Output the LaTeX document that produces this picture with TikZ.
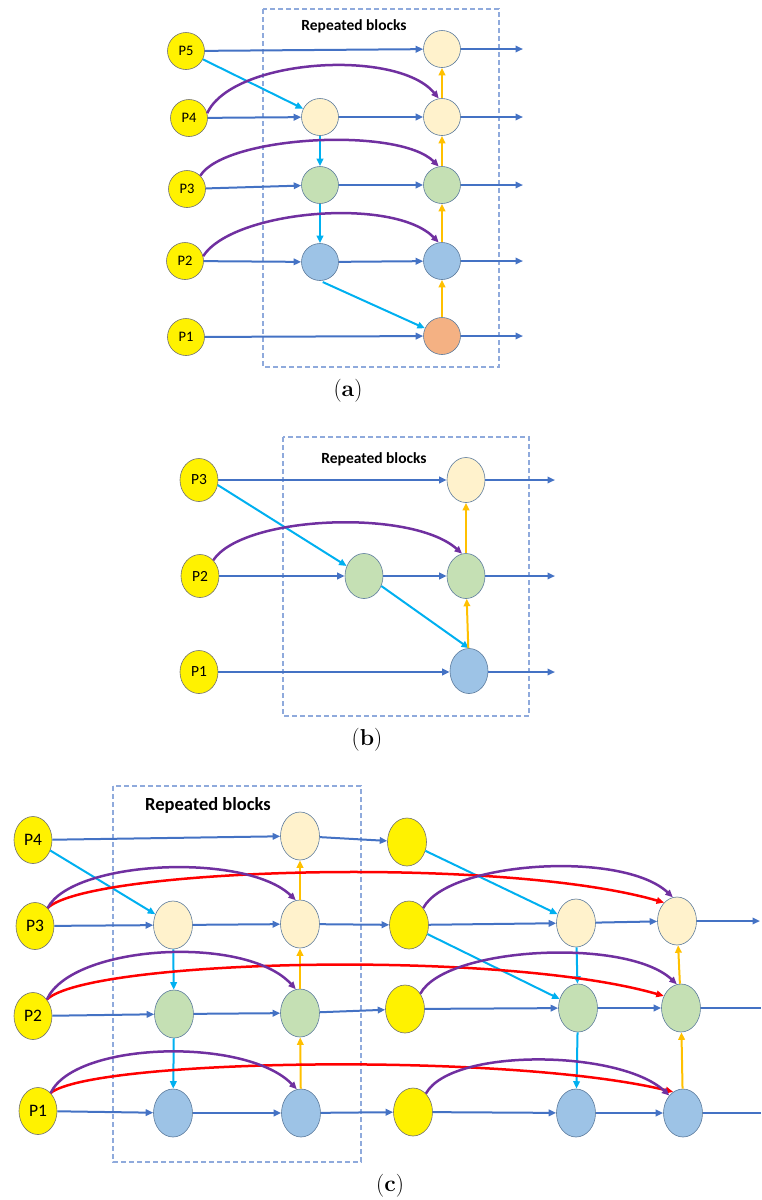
\documentclass[tikz,border=0pt]{standalone}
\usepackage{fontspec}
\newfontfamily\calibri{Carlito}
\usetikzlibrary{arrows.meta,shapes.geometric}
\definecolor{flowc}{HTML}{4472C4}
\definecolor{feedc}{HTML}{00B0F0}
\definecolor{liftc}{HTML}{FFC000}
\definecolor{skipc}{HTML}{7030A0}
\definecolor{jumpc}{HTML}{FF0000}
\definecolor{ltyel}{HTML}{FFF2CC}
\definecolor{grn}{HTML}{C5E0B4}
\definecolor{blu}{HTML}{9DC3E6}
\definecolor{org}{HTML}{F4B183}
\definecolor{cedge}{HTML}{5B7A9C}
\definecolor{pedge}{HTML}{707070}
\definecolor{boxc}{HTML}{8FAADC}
\begin{document}
\begin{tikzpicture}[x=1pt,y=-1pt,
  headed/.style={-{Triangle[length=7.5pt,width=6.5pt]}},
  flowline/.style={draw=flowc,line width=2pt},
  flowarrow/.style={flowline,headed},
  feedarrow/.style={draw=feedc,line width=2pt,headed},
  liftarrow/.style={draw=liftc,line width=2pt,headed},
  skiparrow/.style={draw=skipc,line width=2.5pt,headed},
  jumparrow/.style={draw=jumpc,line width=2.5pt,headed},
  blockframe/.style={draw=boxc,line width=1.5pt,dash pattern=on 5pt off 3pt},
  blocktitle/.style={font=\calibri\bfseries\fontsize{#1}{#1}\selectfont},
  caption/.style={font=\fontsize{23}{23}\selectfont},
  pnode/.style={circle,fill=yellow,draw=pedge,line width=0.6pt,inner sep=0pt,
    minimum size=37pt,font=\calibri\fontsize{14.5}{14.5}\selectfont},
  cellnode/.style={circle,draw=cedge,line width=0.6pt,inner sep=0pt,minimum size=37pt},
  pnodeB/.style={pnode,ellipse,minimum width=38pt,minimum height=43pt,
    font=\calibri\fontsize{15.5}{15.5}\selectfont},
  cellB/.style={cellnode,ellipse,minimum width=38pt,minimum height=45pt},
  pnodeC/.style={pnode,ellipse,minimum width=38pt,minimum height=47pt,
    font=\calibri\fontsize{17.5}{17.5}\selectfont},
  cellC/.style={cellnode,ellipse,minimum width=39pt,minimum height=48pt},
  ylwC/.style={cellC,fill=yellow,draw=pedge},
  lt/.style={fill=ltyel},
  gr/.style={fill=grn},
  bl/.style={fill=blu},
  og/.style={fill=org}]
\useasboundingbox (0,0) rectangle (761,1200);

% ---------------- (a) ----------------
\draw[blockframe] (263,9) rectangle (499,367);
\node[blocktitle=15.5] (ta) at (354,26) {Repeated blocks};
\node[pnode] (P5) at (186,51) {P5};
\node[pnode] (P4) at (189,118) {P4};
\node[pnode] (P3) at (187,189) {P3};
\node[pnode] (P2) at (185,261) {P2};
\node[pnode] (P1) at (186,337) {P1};
\node[cellnode,lt] (a1L) at (320,117) {};
\node[cellnode,gr] (a1G) at (320,185) {};
\node[cellnode,bl] (a1B) at (320,262) {};
\node[cellnode,lt] (a2T) at (442,49) {};
\node[cellnode,lt] (a2L) at (442,117) {};
\node[cellnode,gr] (a2G) at (442,185) {};
\node[cellnode,bl] (a2B) at (442,261) {};
\node[cellnode,og] (a2O) at (442,336) {};
\coordinate (ra5) at (523,49);
\coordinate (ra4) at (523,117);
\coordinate (ra3) at (523,185);
\coordinate (ra2) at (523,261);
\coordinate (ra1) at (523,336);

\draw[flowarrow] (P5) -- (a2T);
\draw[flowarrow] (a2T) -- (ra5);
\draw[flowarrow] (P4) -- (a1L);
\draw[flowarrow] (a1L) -- (a2L);
\draw[flowarrow] (a2L) -- (ra4);
\draw[flowarrow] (P3) -- (a1G);
\draw[flowarrow] (a1G) -- (a2G);
\draw[flowarrow] (a2G) -- (ra3);
\draw[flowarrow] (P2) -- (a1B);
\draw[flowarrow] (a1B) -- (a2B);
\draw[flowarrow] (a2B) -- (ra2);
\draw[flowarrow] (P1) -- (a2O);
\draw[flowarrow] (a2O) -- (ra1);

\draw[feedarrow] (P5) -- (a1L);
\draw[feedarrow] (a1L) -- (a1G);
\draw[feedarrow] (a1G) -- (a1B);
\draw[feedarrow,shorten <=3pt] (a1B.south) -- (a2O);

\draw[liftarrow] (a2O) -- (a2B);
\draw[liftarrow] (a2B) -- (a2G);
\draw[liftarrow] (a2G) -- (a2L);
\draw[liftarrow] (a2L) -- (a2T);

\draw[skiparrow] (P4.15) .. controls +(26,-55) and +(-41,-50) .. (a2L.100);
\draw[skiparrow] (P3.45) .. controls +(25,-40) and +(-40,-40) .. (a2G.100);
\draw[skiparrow] (P2.15) .. controls +(30,-46) and +(-45,-46) .. (a2B.100);

\node[caption] (capa) at (348,391) {(\textbf{a})};

% ---------------- (b) ----------------
\draw[blockframe] (283,437) rectangle (529,716);
\node[blocktitle=15.5] (tb) at (374,459) {Repeated blocks};
\node[pnodeB] (bP3) at (199,480) {P3};
\node[pnodeB] (bP2) at (200,576) {P2};
\node[pnodeB] (bP1) at (199,672) {P1};
\node[cellB,gr] (b1G) at (364,576) {};
\node[cellB,lt] (b2L) at (466,480) {};
\node[cellB,gr] (b2G) at (466,576) {};
\node[cellB,bl] (b2B) at (469,671) {};
\coordinate (rb3) at (555,480);
\coordinate (rb2) at (555,576);
\coordinate (rb1) at (555,672);

\draw[flowarrow] (bP3) -- (b2L);
\draw[flowarrow] (b2L) -- (rb3);
\draw[flowarrow] (bP2) -- (b1G);
\draw[flowarrow] (b1G) -- (b2G);
\draw[flowarrow] (b2G) -- (rb2);
\draw[flowarrow] (bP1.east) -- (b2B.west |- bP1.east);
\draw[flowarrow] (b2B.east |- rb1) -- (rb1);

\draw[feedarrow] (bP3.-15) -- (b1G.150);
\draw[feedarrow] (b1G.-30) -- (b2B.north);

\draw[liftarrow] (b2B) -- (b2G);
\draw[liftarrow] (b2G) -- (b2L);

\draw[skiparrow] (bP2.50) .. controls +(30,-45) and +(-50,-45) .. (b2G.100);

\node[caption] (capb) at (367,740) {(\textbf{b})};

% ---------------- (c) ----------------
\draw[blockframe] (113,786) rectangle (361,1162);
\node[blocktitle=18.5] (tc) at (208,805) {Repeated blocks};
\node[pnodeC] (cP4) at (33,840) {P4};
\node[pnodeC] (cP3) at (35,926) {P3};
\node[pnodeC] (cP2) at (33,1016) {P2};
\node[pnodeC] (cP1) at (38,1111) {P1};
\node[cellC,lt] (c1L) at (173,925) {};
\node[cellC,gr] (c1G) at (174,1014) {};
\node[cellC,bl] (c1B) at (173,1113) {};
\node[cellC,lt] (c2T) at (300,836) {};
\node[cellC,lt] (c2L) at (300,924) {};
\node[cellC,gr] (c2G) at (300,1013) {};
\node[cellC,bl] (c2B) at (301,1113) {};
\node[ylwC] (Y4) at (407,842) {};
\node[ylwC] (Y3) at (409,925) {};
\node[ylwC] (Y2) at (405,1009) {};
\node[ylwC] (Y1) at (413,1112) {};
\node[cellC,lt] (d1L) at (576,923) {};
\node[cellC,gr] (d1G) at (578,1008) {};
\node[cellC,bl] (d1B) at (576,1113) {};
\node[cellC,lt] (d2L) at (677,921) {};
\node[cellC,gr] (d2G) at (681,1008) {};
\node[cellC,bl] (d2B) at (683,1113) {};
\coordinate (rc3) at (760,921);
\coordinate (rc2) at (761,1008);
\coordinate (rc1) at (761,1113);

\draw[flowarrow] (cP4) -- (c2T);
\draw[flowarrow] (c2T) -- (Y4);
\draw[flowarrow] (cP3) -- (c1L);
\draw[flowarrow] (c1L) -- (c2L);
\draw[flowarrow] (c2L) -- (Y3);
\draw[flowarrow] (cP2) -- (c1G);
\draw[flowarrow] (c1G) -- (c2G);
\draw[flowarrow] (c2G) -- (Y2);
\draw[flowarrow] (cP1) -- (c1B);
\draw[flowarrow] (c1B) -- (c2B);
\draw[flowarrow] (c2B) -- (Y1);
\draw[flowarrow] (Y3) -- (d1L);
\draw[flowarrow] (d1L) -- (d2L);
\draw[flowarrow] (d2L) -- (rc3);
\draw[flowarrow] (Y2) -- (d1G);
\draw[flowarrow] (d1G) -- (d2G);
\draw[flowline] (d2G) -- (rc2);
\draw[flowarrow] (Y1) -- (d1B);
\draw[flowarrow] (d1B) -- (d2B);
\draw[flowline] (d2B) -- (rc1);

\draw[feedarrow] (cP4) -- (c1L);
\draw[feedarrow] (c1L) -- (c1G);
\draw[feedarrow] (c1G) -- (c1B);
\draw[feedarrow] (Y4) -- (d1L);
\draw[feedarrow] (Y3) -- (d1G);
\draw[feedarrow] (d1L) -- (d1G);
\draw[feedarrow] (d1G) -- (d1B);

\draw[liftarrow] (c2B) -- (c2G);
\draw[liftarrow] (c2G) -- (c2L);
\draw[liftarrow] (c2L) -- (c2T);
\draw[liftarrow] (d2B) -- (d2G);
\draw[liftarrow] (d2G) -- (d2L);

\draw[jumparrow] (cP3.55) .. controls +(42,-40) and +(-163,-47) .. (d2L.125);
\draw[jumparrow] (cP2.50) .. controls +(42,-40) and +(-163,-47) .. (d2G.145);
\draw[jumparrow] (cP1.55) .. controls +(42,-34) and +(-165,-40) .. (d2B.115);

\draw[skiparrow] (cP3.55) .. controls +(25,-48) and +(-50,-48) .. (c2L.100);
\draw[skiparrow] (cP2.50) .. controls +(25,-55) and +(-50,-55) .. (c2G.100);
\draw[skiparrow] (cP1.55) .. controls +(25,-52) and +(-50,-52) .. (c2B.100);
\draw[skiparrow] (Y3.50) .. controls +(25,-47) and +(-50,-47) .. (d2L.100);
\draw[skiparrow] (Y2.45) .. controls +(25,-47) and +(-50,-47) .. (d2G.100);
\draw[skiparrow] (Y1.55) .. controls +(25,-46) and +(-50,-46) .. (d2B.128);

\node[caption] (capc) at (390,1186) {(\textbf{c})};
\end{tikzpicture}
\end{document}
